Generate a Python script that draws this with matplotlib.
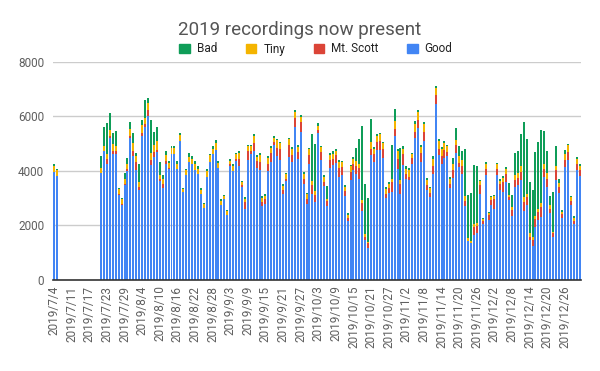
import matplotlib
matplotlib.use("Agg")
import matplotlib.pyplot as plt
from matplotlib.patches import Patch
import numpy as np
import pandas as pd

plt.rcParams['font.family'] = ['Roboto', 'DejaVu Sans']

# one day (2019-07-08) has no row in the source sheet
dates = [d for d in pd.date_range("2019-07-04", "2019-12-31") if d != pd.Timestamp("2019-07-08")]
labels = [f"{d.year}/{d.month}/{d.day}" for d in dates]

good = [3960, 3820, 0, 0, 0, 0, 0, 0, 0, 0, 0, 0, 0, 0, 0, 0,
        3930, 4720, 4270, 5220, 4610, 4610, 3110, 2745, 3480, 4000,
        5220, 4540, 4050, 3290, 5270, 5610, 6000, 4210, 4510, 4700,
        3640, 3390, 4270, 4060, 4640, 4610, 4060, 5090, 3230, 3840,
        4330, 4270, 4050, 3880, 3170, 2650, 3780, 4330, 4610, 4760,
        4120, 2745, 2960, 2380, 4200, 4000, 4355, 4170, 3420, 2590,
        4390, 4610, 4720, 4110, 4030, 2710, 2800, 4000, 4330, 4940,
        4540, 4420, 3150, 3620, 4510, 4330, 5610, 4430, 5430, 3540,
        2800, 4250, 3170, 2870, 5390, 4390, 3440, 2710, 4120, 4210,
        4290, 3780, 3840, 3070, 2160, 3660, 4030, 3900, 3720, 2540,
        1460, 1160, 4575, 4330, 4760, 4760, 4490, 3010, 3210, 3230,
        5270, 4090, 3170, 4210, 3720, 3685, 4270, 5220, 5575, 4330,
        5090, 3290, 3030, 3900, 6440, 4575, 4270, 4480, 4540, 3390,
        3760, 4660, 4150, 3900, 2710, 1440, 1340, 1650, 1710, 3170,
        2070, 3840, 2200, 2745, 2600, 3840, 3290, 3230, 3600, 2930,
        2340, 3420, 3480, 3660, 2540, 2745, 1460, 1240, 1950, 2200,
        2320, 3780, 3420, 2440, 1590, 3680, 3200, 2280, 4150, 4420,
        2745, 2070, 4030, 3800]

mt_scott = [0, 0, 0, 0, 0, 0, 0, 0, 0, 0, 0, 0, 0, 0, 0, 0,
            0, 0, 160, 70, 110, 110, 60, 60, 60, 70,
            50, 200, 280, 120, 130, 120, 220, 180, 180, 60,
            50, 150, 100, 60, 0, 0, 0, 0, 0, 0,
            0, 0, 0, 0, 0, 0, 0, 0, 0, 0,
            0, 0, 0, 0, 60, 0, 70, 280, 60, 270,
            330, 110, 300, 240, 300, 160, 180, 270, 330, 120,
            300, 380, 150, 100, 430, 240, 330, 270, 370, 180,
            160, 330, 300, 240, 100, 300, 160, 200, 300, 240,
            280, 340, 300, 180, 130, 300, 240, 300, 400, 290,
            120, 180, 240, 280, 300, 340, 330, 160, 180, 370,
            280, 340, 340, 400, 180, 100, 200, 210, 280, 330,
            340, 210, 170, 270, 330, 240, 270, 280, 160, 120,
            270, 280, 150, 270, 200, 0, 0, 300, 270, 300,
            100, 220, 180, 180, 390, 220, 240, 370, 300, 100,
            220, 240, 280, 300, 330, 300, 120, 220, 270, 300,
            370, 280, 270, 180, 120, 340, 220, 130, 240, 280,
            160, 100, 240, 220]

tiny = [240, 230, 0, 0, 0, 0, 0, 0, 0, 0, 0, 0, 0, 0, 0, 0,
        180, 180, 180, 200, 260, 200, 160, 150, 160, 200,
        260, 300, 210, 180, 290, 220, 290, 270, 270, 330,
        160, 180, 210, 170, 220, 230, 210, 240, 120, 180,
        180, 180, 220, 210, 150, 130, 210, 240, 210, 280,
        170, 160, 110, 160, 120, 200, 180, 220, 120, 130,
        180, 200, 280, 180, 260, 150, 120, 220, 180, 160,
        280, 210, 160, 160, 220, 240, 220, 180, 180, 180,
        180, 220, 180, 150, 160, 180, 180, 80, 180, 180,
        180, 210, 180, 180, 110, 210, 180, 150, 150, 100,
        100, 60, 240, 200, 240, 240, 200, 180, 150, 120,
        270, 300, 170, 210, 180, 240, 150, 300, 300, 220,
        300, 180, 160, 280, 280, 300, 280, 270, 210, 210,
        240, 180, 240, 240, 170, 90, 90, 120, 120, 160,
        60, 210, 90, 120, 90, 180, 120, 160, 180, 90,
        100, 180, 150, 210, 160, 120, 150, 120, 120, 90,
        120, 180, 220, 120, 60, 180, 150, 90, 220, 240,
        150, 110, 180, 180]

bad = [70, 30, 0, 0, 0, 0, 0, 0, 0, 0, 0, 0, 0, 0, 0, 0,
       440, 710, 1150, 650, 430, 550, 60, 40, 230, 220,
       270, 370, 130, 650, 170, 660, 170, 1220, 460, 520,
       490, 120, 150, 60, 70, 90, 100, 70, 40, 60,
       150, 110, 80, 110, 70, 50, 80, 60, 90, 90,
       70, 50, 60, 30, 50, 60, 60, 50, 40, 40,
       60, 50, 60, 70, 60, 50, 50, 50, 60, 60,
       60, 60, 50, 50, 50, 60, 90, 60, 60, 50,
       50, 50, 1710, 1740, 110, 60, 60, 450, 50, 90,
       60, 60, 60, 50, 60, 60, 60, 490, 910, 2720,
       1860, 1620, 850, 80, 60, 50, 60, 60, 40, 1220,
       460, 90, 1160, 90, 90, 80, 50, 100, 100, 60,
       60, 70, 60, 90, 60, 60, 60, 60, 40, 60,
       210, 460, 370, 340, 1740, 1590, 1770, 2140, 2100, 50,
       30, 60, 40, 40, 40, 50, 60, 50, 60, 430,
       450, 820, 830, 1200, 2770, 2010, 1870, 1710, 2350, 2480,
       2710, 1220, 820, 330, 1460, 710, 120, 60, 150, 60,
       40, 60, 60, 40]

series = [("Good", good, "#4285F4"),
          ("Mt. Scott", mt_scott, "#DB4437"),
          ("Tiny", tiny, "#F4B400"),
          ("Bad", bad, "#0F9D58")]

fig = plt.figure(figsize=(6, 3.71), dpi=100)
ax = fig.add_axes([0.0877, 0.2453, 0.8806, 0.5877])

x = np.arange(len(labels))
bottom = np.zeros(len(labels))
for name, vals, col in series:
    ax.bar(x, vals, bottom=bottom, width=0.68, color=col, linewidth=0)
    bottom += np.array(vals)

ax.set_xlim(-0.5, len(labels) - 0.5)
ax.set_ylim(0, 8000)
ax.set_yticks([0, 2000, 4000, 6000, 8000])
ax.yaxis.grid(True, color="#cccccc", linewidth=1)
ax.set_axisbelow(True)
ax.set_xticks(x[::6])
ax.set_xticklabels(labels[::6], rotation=90, fontsize=8.5, color="#5f5f5f")
ax.tick_params(axis="y", length=0, labelsize=8.5, labelcolor="#5f5f5f", pad=6)
ax.tick_params(axis="x", length=0, pad=4)
for s in ["top", "right", "left"]:
    ax.spines[s].set_visible(False)
ax.spines["bottom"].set_color("#333333")
ax.spines["bottom"].set_linewidth(1.2)

fig.text(0.5, 1 - 30 / 371, "2019 recordings now present", ha="center", va="center",
         fontsize=13.5, color="#555555")

handles = [Patch(color=col, label=name) for name, vals, col in series[::-1]]
fig.legend(handles=handles, loc="center", bbox_to_anchor=(316 / 600, 1 - 49 / 371),
           ncol=4, frameon=False, fontsize=8.5, handlelength=0.9, handleheight=0.9,
           handletextpad=0.6, columnspacing=2.4, labelcolor="#222222")

fig.savefig("out.png", dpi=100)
